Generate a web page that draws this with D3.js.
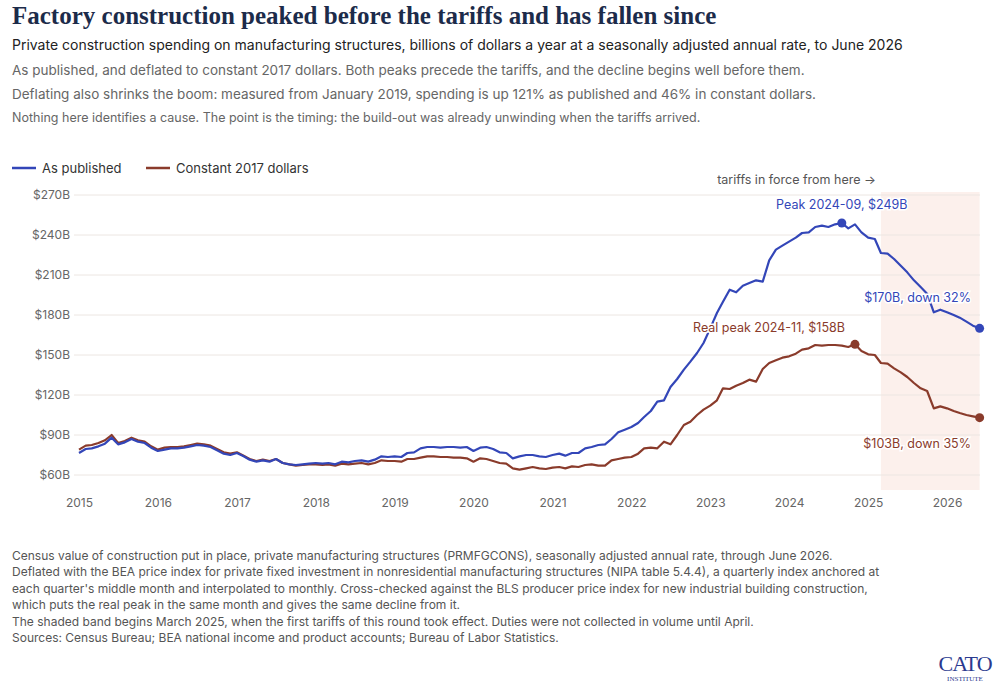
<!DOCTYPE html>
<html><head><meta charset="utf-8">
<script src="https://cdn.jsdelivr.net/npm/d3@7"></script>
<style>body{margin:0;background:#fff}text{font-family:Inter,"Noto Sans",sans-serif}</style>
</head><body><svg id="c" width="1002" height="696"></svg>
<script>
const published = [
76.5,79.5,80,81.5,83.5,88,83,84.5,87,85,84,80.5,
78,79,80,80,80.5,81.5,82.5,82,81,78.5,76,75,
76.5,74,71.5,70,71,70,72,69,68,67.5,68,68.5,
69,68.5,69,68,70,69.5,70.5,71,70,71.5,74,73.5,
74,73.5,76.5,77,80,81,81,80.5,81,81,80.5,81,
78,80.5,81,79.5,77,76.5,72.5,74,75,75,74,73.5,
75,76,74.5,76.5,76.5,80,81,82.5,83,87,92,94,
96,99,103.5,108,115,116,126,132,139,145,151.5,159,
170,181.5,190,199,197,202,204,206,205,221,229,232,
235,238,241.5,242,246,247,246,248,249,245,248,242,
238,237,226.5,226,222,217,212,206,201,196,182,184,
182,180,178,175,172,170];
const constant2017 = [
79,82,82.5,84,86,90,84,85.5,88,86,85,81.5,
79,80.5,81,81,81.5,82.5,83.5,83,82,79.5,77,76,
77,74.5,72,70.5,71.5,70.5,72,69,68,67,67.5,68,
68,67.5,68,67,68.5,68,68.5,69,68,69,71,70.5,
70.5,70,72,72,73,74,74,73.5,73.5,73,73,72.5,
70,72.5,72,70.5,69,68.5,65,64,65,66,65,64.5,
65.5,66,65,66.5,66,67.5,68,67,67,71,72,73,
73.5,76,80,80.5,80,85,83,90,97.5,100,105,109,
112,116,125,124.5,127,129,131.5,130,139.5,144,146,148,
149,151,154,155,157.5,157,157.5,157.5,157,156,158,153,
150.5,150,144,143.5,140,137,133.5,129,125,123,110,111.5,
110,108,106.5,105,104,103];
const yTicks = [60,90,120,150,180,210,240,270];
const xYears = [2015,2016,2017,2018,2019,2020,2021,2022,2023,2024,2025,2026];
const tariffStart = new Date(2025,2,1);

const svg = d3.select("#c");
const dates = published.map((_,i)=>new Date(2015,i,1));
const x = d3.scaleTime().domain([new Date(2015,0,1),new Date(2026,0,1)]).range([79,947]);
const y = d3.scaleLinear().domain([60,270]).range([475,195]);
const blue="#3346b8", brown="#8a3b2b";

svg.append("rect").attr("x",x(tariffStart)).attr("y",192).attr("width",x(dates[dates.length-1])-x(tariffStart)).attr("height",298).attr("fill","#fcf0ec");
svg.append("text").attr("x",876).attr("y",184).attr("text-anchor","end").attr("font-size",12.5).attr("fill","#555").text("tariffs in force from here →");

const gy = svg.append("g");
yTicks.forEach(t=>{
  gy.append("line").attr("x1",74).attr("x2",980).attr("y1",y(t)).attr("y2",y(t)).attr("stroke","#ece6e2").attr("stroke-width",1);
  gy.append("text").attr("x",70).attr("y",y(t)+4).attr("text-anchor","end").attr("font-size",12).attr("fill","#666").text("$"+t+"B");
});
const xa = svg.append("g").attr("transform","translate(0,490)")
  .call(d3.axisBottom(x).tickValues(xYears.map(v=>new Date(v,0,1))).tickFormat(d3.timeFormat("%Y")).tickSize(0).tickPadding(8));
xa.select(".domain").remove();
xa.selectAll("text").attr("font-size",12).attr("fill","#666").style("font-family","Inter");

const line = d3.line().x((d,i)=>x(dates[i])).y(d=>y(d));
svg.append("path").datum(constant2017).attr("d",line).attr("fill","none").attr("stroke",brown).attr("stroke-width",2.2).attr("stroke-linejoin","round");
svg.append("path").datum(published).attr("d",line).attr("fill","none").attr("stroke",blue).attr("stroke-width",2.2).attr("stroke-linejoin","round");

const last = dates.length-1;
const pi = published.indexOf(d3.max(published)), ci = constant2017.indexOf(d3.max(constant2017));
[[pi,published,blue],[last,published,blue],[ci,constant2017,brown],[last,constant2017,brown]].forEach(([i,s,c])=>
  svg.append("circle").attr("cx",x(dates[i])).attr("cy",y(s[i])).attr("r",4.5).attr("fill",c));
const lab=(tx,xx,yy,c,a)=>svg.append("text").attr("x",xx).attr("y",yy).attr("text-anchor",a||"middle").attr("font-size",12.5).attr("fill",c)
  .attr("stroke","#fff").attr("stroke-width",3).attr("paint-order","stroke").text(tx);
lab("Peak 2024-09, $249B",x(dates[pi]),y(249)-14,blue);
lab("Real peak 2024-11, $158B",x(dates[ci])-10,y(158)-12,brown,"end");
lab("$170B, down 32%",971,y(170)-26,blue,"end");
lab("$103B, down 35%",971,y(103)+30,brown,"end");

svg.append("line").attr("x1",12).attr("x2",36).attr("y1",168).attr("y2",168).attr("stroke",blue).attr("stroke-width",2.5);
svg.append("text").attr("x",42).attr("y",172.5).attr("font-size",13).attr("fill","#333").text("As published");
svg.append("line").attr("x1",146).attr("x2",170).attr("y1",168).attr("y2",168).attr("stroke",brown).attr("stroke-width",2.5);
svg.append("text").attr("x",176).attr("y",172.5).attr("font-size",13).attr("fill","#333").text("Constant 2017 dollars");

svg.append("text").attr("x",12).attr("y",24).attr("font-size",25).attr("font-weight","bold").attr("fill","#1c2b4a").style("font-family","'Liberation Serif',serif").text("Factory construction peaked before the tariffs and has fallen since");
svg.append("text").attr("x",12).attr("y",50).attr("font-size",14).attr("fill","#222").text("Private construction spending on manufacturing structures, billions of dollars a year at a seasonally adjusted annual rate, to June 2026");
[["As published, and deflated to constant 2017 dollars. Both peaks precede the tariffs, and the decline begins well before them.",75,13.5],
 ["Deflating also shrinks the boom: measured from January 2019, spending is up 121% as published and 46% in constant dollars.",99,13.5],
 ["Nothing here identifies a cause. The point is the timing: the build-out was already unwinding when the tariffs arrived.",122,12.5]]
.forEach(([t,yy,fs])=>svg.append("text").attr("x",12).attr("y",yy).attr("font-size",fs).attr("fill","#666").text(t));

const notes=["Census value of construction put in place, private manufacturing structures (PRMFGCONS), seasonally adjusted annual rate, through June 2026.",
"Deflated with the BEA price index for private fixed investment in nonresidential manufacturing structures (NIPA table 5.4.4), a quarterly index anchored at",
"each quarter's middle month and interpolated to monthly. Cross-checked against the BLS producer price index for new industrial building construction,",
"which puts the real peak in the same month and gives the same decline from it.",
"The shaded band begins March 2025, when the first tariffs of this round took effect. Duties were not collected in volume until April.",
"Sources: Census Bureau; BEA national income and product accounts; Bureau of Labor Statistics."];
notes.forEach((t,i)=>svg.append("text").attr("x",12).attr("y",560+i*16.4).attr("font-size",12).attr("fill","#555").text(t));
svg.append("text").attr("x",965).attr("y",671).attr("text-anchor","middle").attr("font-size",22).attr("fill","#2b3a8f").style("font-family","'Liberation Serif',serif").attr("letter-spacing",-1).text("CATO");
svg.append("text").attr("x",965).attr("y",681).attr("text-anchor","middle").attr("font-size",7).attr("fill","#2b3a8f").style("font-family","'Liberation Serif',serif").text("INSTITUTE");
</script></body></html>
